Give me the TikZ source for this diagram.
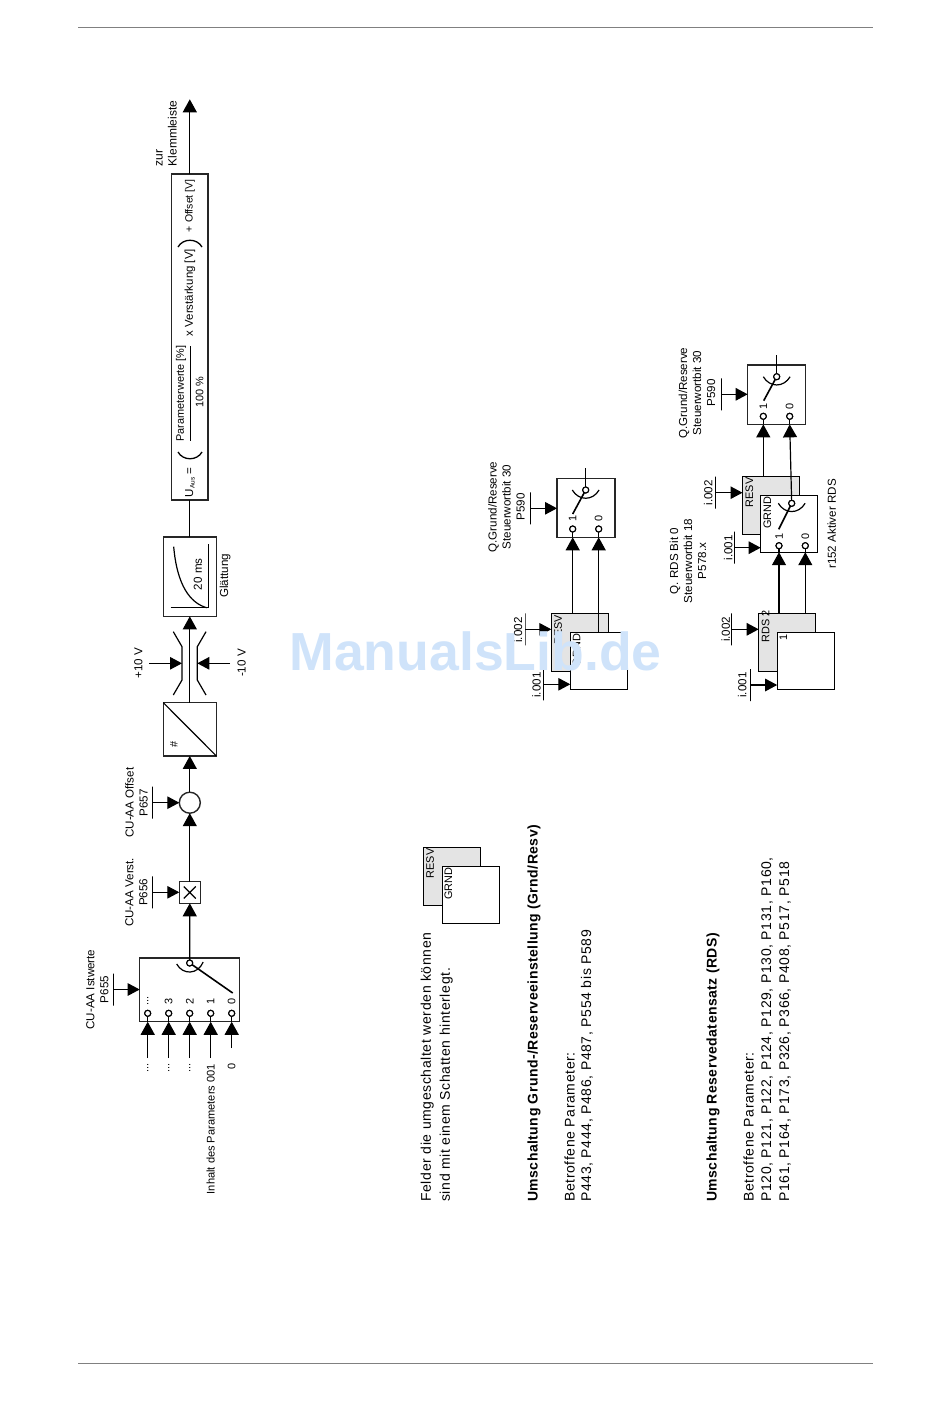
\documentclass[tikz,border=0pt]{standalone}
\usepackage{fontspec}
\setmainfont{Liberation Sans}
\newfontfamily\bodyfont[LetterSpace=4.5]{Liberation Sans}
\newfontfamily\headfont[LetterSpace=3.3]{Liberation Sans}
\usetikzlibrary{calc,arrows.meta}
\definecolor{shadowgray}{HTML}{E4E4E4}
\definecolor{markblue}{HTML}{CFE3FA}
\tikzset{
  lab/.style={rotate=90,inner sep=0pt,outer sep=0pt,align=center,font=\fontsize{11.6}{14}\selectfont},
  smalllab/.style={lab,font=\fontsize{10.9}{14}\selectfont},
  bodytxt/.style={rotate=90,anchor=west,inner sep=0pt,outer sep=0pt,font=\bodyfont\fontsize{14}{18}\selectfont},
  headtxt/.style={bodytxt,font=\headfont\bfseries\fontsize{14}{18}\selectfont},
  block/.style={draw=black!85,line width=1.4pt,fill=white,inner sep=0pt,outer sep=0pt},
  shadowbox/.style={draw,line width=.9pt,fill=shadowgray,inner sep=0pt,outer sep=0pt,minimum width=57pt,minimum height=58pt},
  frontbox/.style={draw,line width=.9pt,fill=white,inner sep=0pt,outer sep=0pt,minimum width=57pt,minimum height=57pt},
  pin/.style={circle,draw,line width=1.1pt,fill=white,inner sep=0pt,outer sep=0pt,minimum size=6pt},
  feedbar/.style={draw,line width=1pt,inner sep=0pt,outer sep=0pt,minimum width=0pt,minimum height=32pt},
  feedarrow/.style={->,>={Triangle[length=12pt,width=12.5pt]}},
}
\begin{document}
\begin{tikzpicture}[x=1pt,y=-1pt,line width=1.2pt,>={Triangle[length=13pt,width=14pt]}]
  \useasboundingbox (0,0) rectangle (950,1409);
  \draw[black!50,line width=1pt] (78,27)--(873,27);
  \draw[black!50,line width=1pt] (78,1363)--(873,1363);

  % Kette oben
  \node[block,minimum width=99.6pt,minimum height=63.7pt] (sel) at (189.5,989.9) {};
  \node[block,minimum width=21pt,minimum height=21.6pt] (mult) at (189.8,892.5) {};
  \draw (mult.center)+(-6,-6)--+(6,6) (mult.center)+(-6,6)--+(6,-6);
  \node[block,circle,minimum size=21pt] (sum) at (189.8,802.7) {};
  \node[block,minimum width=53pt,minimum height=53.3pt] (wandler) at (189.8,729.3) {};
  \draw (wandler.north west)--(wandler.south east);
  \node[smalllab] (raute) at (174,744) {\#};
  \node[block,minimum width=53pt,minimum height=79.3pt] (glatt) at (189.8,576.7) {};
  \node[block,minimum width=36.6pt,minimum height=326pt] (formel) at (189.8,337) {};
  \coordinate (klemm) at (189.8,99.3);

  % Wahlschalter
  \node[pin] (selpin) at (189.7,963) {};
  \draw[line width=1.6pt] (selpin.center)--(232.7,993);
  \draw ($(selpin)+(-13,1)$) .. controls ($(selpin)+(-7,12)$) and ($(selpin)+(8,12)$) .. ($(selpin)+(13.5,-1)$);
  \node[pin] at (selpin) {};
  \foreach \nm/\x/\ya/\txt in {a/147.7/1058/{...},b/168.7/1058/3,c/189.7/1058/2,d/210.7/1058/1,e/231.7/1048/0}{
    \node[pin] (pin\nm) at (\x,1013.3) {};
    \coordinate (src\nm) at (\x,\ya);
    \draw (pin\nm) -- (pin\nm |- sel.south);
    \draw[->] (src\nm) -- (src\nm |- sel.south);
    \node[smalllab] (num\nm) at (\x,1001) {\txt};
  }
  \node[smalllab] (dotsa) at (147.7,1068) {...};
  \node[smalllab] (dotsb) at (168.7,1068) {...};
  \node[smalllab] (dotsc) at (189.7,1068) {...};
  \node[smalllab,anchor=east,font=\fontsize{11.1}{14}\selectfont] (inhalt) at (210.7,1064) {Inhalt des Parameters 001};
  \node[smalllab] (nullin) at (231.7,1066) {0};

  % Parameter
  \node[feedbar] (b655) at (113.3,989.5) {};
  \draw[feedarrow] (b655.center) -- (b655 -| sel.west);
  \node[lab] (t655) at (97.5,989.5) {CU-AA Istwerte\\P655};
  \node[feedbar] (b656) at (152.7,892.3) {};
  \draw[feedarrow] (b656.center) -- (b656 -| mult.west);
  \node[lab] (t656) at (136.5,892.3) {CU-AA Verst.\\P656};
  \node[feedbar] (b657) at (152.7,802.7) {};
  \draw[feedarrow] (b657.center) -- (sum.west);
  \node[lab] (t657) at (136.5,802.7) {CU-AA Offset\\P657};

  \draw[->] (selpin) -- (mult);
  \draw[->] (mult) -- (sum);
  \draw[->] (sum) -- (wandler);
  \draw[->] (wandler) -- (glatt);
  \draw (glatt) -- (formel);
  \draw[->] (formel) -- (klemm);

  % Begrenzung
  \draw (173.3,631.7)--(182,646.7)--(182,680)--(173.3,695);
  \draw (206,631.7)--(197.3,646.7)--(197.3,680)--(206,695);
  \coordinate (vplus) at (149.3,663.3);
  \coordinate (vminus) at (230,663.3);
  \coordinate (limp) at (182,663.3);
  \coordinate (limm) at (197.3,663.3);
  \draw[feedarrow] (vplus) -- (limp);
  \draw[feedarrow] (vminus) -- (limm);
  \node[lab] (plusten) at (138.3,663) {+10 V};
  \node[lab] (minusten) at (241.7,663) {-10 V};

  % Glaettung
  \draw (170.7,607.7)--(208.3,607.7)--(208.3,544);
  \draw (173.7,546.7) .. controls (177,585) and (190,603) .. (206.7,607.7);
  \node[lab] (zwanzig) at (198,574.3) {20 ms};
  \node[lab] (glattlab) at (225,576) {Glättung};

  % Formel
  \node[lab,anchor=west] (uaus) at (190,497) {U\raisebox{-1.5pt}{\fontsize{6.5}{7}\selectfont Aus} =};
  \draw[line width=1.3pt] (178,452) .. controls (183,461) and (197,461) .. (202,452);
  \node[smalllab] (fracoben) at (181,393.5) {Parameterwerte [\%]};
  \draw[line width=1pt] (190,346)--(190,441);
  \node[smalllab] (fracunten) at (199.5,392) {100 \%};
  \node[lab,anchor=west,font=\fontsize{11.4}{14}\selectfont] (verst) at (190,336) {x Verstärkung [V]};
  \draw[line width=1.3pt] (178,247) .. controls (183,238) and (197,238) .. (202,247);
  \node[smalllab,anchor=west,font=\fontsize{10.5}{14}\selectfont] (offset) at (190,232) {+ Offset [V]};
  \node[lab,anchor=west,align=left,font=\fontsize{12}{14}\selectfont] (zur) at (166.5,166) {zur\\Klemmleiste};

  % Grund/Reserve Mitte
  \node[shadowbox] (shadowG) at (579.8,642.5) {};
  \node[frontbox] (frontG) at (598.8,660.8) {};
  \node[smalllab] (resvG) at (558,630) {RESV};
  \node[smalllab] (grndG) at (576.7,650) {GRND};
  \node[block,minimum width=58pt,minimum height=59pt] (swA) at (586,507.8) {};
  \node[pin] (pivA) at (585.7,490) {};
  \node[pin] (pinAa) at (572.7,529) {};
  \node[pin] (pinAb) at (598.7,529) {};
  \coordinate (outA) at (585.7,468.3);
  \draw (pivA) -- (outA);
  \draw[->] (pinAa |- shadowG.north) -- (pinAa |- swA.south);
  \draw[->] (pinAb |- frontG.north) -- (pinAb |- swA.south);
  \draw (pinAa) -- (pinAa |- swA.south);
  \draw (pinAb) -- (pinAb |- swA.south);
  \node[smalllab] (numAa) at (572.7,518.3) {1};
  \node[smalllab] (numAb) at (598.7,518.3) {0};
  \node[feedbar] (bA) at (530.7,508.3) {};
  \draw[feedarrow] (bA.center) -- (bA -| swA.west);
  \node[lab] (tA) at (506.5,507) {Q.Grund/Reserve\\Steuerwortbit 30\\P590};
  \node[feedbar] (bG2) at (525,629.3) {};
  \draw[feedarrow] (bG2.center) -- (bG2 -| shadowG.west);
  \node[lab] (tG2) at (518,630) {i.002};
  \node[feedbar] (bG1) at (543.3,684.3) {};
  \draw[feedarrow] (bG1.center) -- (bG1 -| frontG.west);
  \node[lab] (tG1) at (536.5,685) {i.001};

  % Grund/Reserve und RDS rechts
  \node[shadowbox] (shadowR) at (787.2,642) {};
  \node[frontbox] (frontR) at (805.7,660.8) {};
  \node[smalllab] (rds) at (765.7,626) {RDS 2};
  \node[smalllab] (einsR) at (783.3,637.3) {1};
  \node[shadowbox] (shadowH) at (771,505.2) {};
  \node[frontbox] (frontH) at (789.2,523.7) {};
  \node[smalllab] (resvH) at (749.3,492.5) {RESV};
  \node[smalllab] (grndH) at (767.3,512.5) {GRND};
  \node[block,minimum width=58pt,minimum height=59.3pt] (swB) at (776.7,394.7) {};
  \node[pin] (pivB) at (776.7,376.7) {};
  \node[pin] (pivC) at (791.7,503.3) {};
  \node[pin] (pinBa) at (763.3,416.3) {};
  \node[pin] (pinBb) at (789.7,416.3) {};
  \node[pin] (pinCa) at (779,545.7) {};
  \node[pin] (pinCb) at (805.3,545.7) {};
  \coordinate (outB) at (776.7,355);
  \draw (pivB) -- (outB);
  \draw[->] (pinBa |- shadowH.north) -- (pinBa |- swB.south);
  \draw[->] (pivC) -- (pinBb |- swB.south);
  \draw[->] (pinCa |- shadowR.north) -- (pinCa |- frontH.south);
  \draw[->] (pinCb |- shadowR.north) -- (pinCb |- frontH.south);
  \draw (pinBa) -- (pinBa |- swB.south);
  \draw (pinBb) -- (pinBb |- swB.south);
  \draw (pinCa) -- (pinCa |- frontH.south);
  \draw (pinCb) -- (pinCb |- frontH.south);
  \node[smalllab] (numBa) at (763.3,406) {1};
  \node[smalllab] (numBb) at (789.7,406) {0};
  \node[smalllab] (numCa) at (779,536) {1};
  \node[smalllab] (numCb) at (805.3,536) {0};
  \node[feedbar] (bB) at (721.7,394.3) {};
  \draw[feedarrow] (bB.center) -- (bB -| swB.west);
  \node[lab] (tB) at (697,393) {Q.Grund/Reserve\\Steuerwortbit 30\\P590};
  \node[lab] (tQ) at (688,561) {Q. RDS Bit 0\\Steuerwortbit 18\\P578.x};
  \node[lab] (aktiv) at (831.7,524) {r152 Aktiver RDS};
  \node[feedbar] (bH2) at (715.7,492.7) {};
  \draw[feedarrow] (bH2.center) -- (bH2 -| shadowH.west);
  \node[lab] (tH2) at (708.3,492.7) {i.002};
  \node[feedbar] (bH1) at (734.7,547.7) {};
  \draw[feedarrow] (bH1.center) -- (bH1 -| frontH.west);
  \node[lab] (tH1) at (728.3,547.7) {i.001};
  \node[feedbar] (bR2) at (731.7,629.3) {};
  \draw[feedarrow] (bR2.center) -- (bR2 -| shadowR.west);
  \node[lab] (tR2) at (725.7,629.3) {i.002};
  \node[feedbar] (bR1) at (750.7,685) {};
  \draw[feedarrow] (bR1.center) -- (bR1 -| frontR.west);
  \node[lab] (tR1) at (742.3,685) {i.001};

  % Schaltarme
  \foreach \nm/\dy in {pivA/24,pivB/24,pivC/26}{
    \draw[line width=1.6pt] (\nm.center)--++(-13,\dy);
    \draw ($(\nm)+(-13.4,0)$) .. controls ($(\nm)+(-7,11)$) and ($(\nm)+(7,11)$) .. ($(\nm)+(13.4,0)$);
    \node[pin] at (\nm) {};
  }
  \foreach \nm in {pina,pinb,pinc,pind,pine,pinAa,pinAb,pinBa,pinBb,pinCa,pinCb}{
    \node[pin] at (\nm) {};
  }

  % Legende
  \node[shadowbox] (shadowL) at (451.7,876.3) {};
  \node[frontbox] (frontL) at (470.5,895.3) {};
  \node[smalllab] (resvL) at (430,863.5) {RESV};
  \node[smalllab] (grndL) at (448.3,883.5) {GRND};

  \node[bodytxt] (felder) at (427.2,1201.7) {Felder die umgeschaltet werden können};
  \node[bodytxt] (schatten) at (446.2,1201.7) {sind mit einem Schatten hinterlegt.};
  \node[headtxt] (grnd) at (534,1201.7) {Umschaltung Grund-/Reserveeinstellung (Grnd/Resv)};
  \node[bodytxt] (betrA) at (569.5,1201.7) {Betroffene Parameter:};
  \node[bodytxt] (listA) at (586.9,1201.7) {P443, P444, P486, P487, P554 bis P589};
  \node[headtxt] (rdsh) at (713,1201.7) {Umschaltung Reservedatensatz (RDS)};
  \node[bodytxt] (betrB) at (748.5,1201.7) {Betroffene Parameter:};
  \node[bodytxt] (listB) at (767.2,1201.7) {P120, P121, P122, P124, P129, P130, P131, P160,};
  \node[bodytxt] (listC) at (785.2,1201.7) {P161, P164, P173, P326, P366, P408, P517, P518};

  % Wasserzeichen
  \node[anchor=base,inner sep=0pt,text=markblue,font=\bfseries\fontsize{53.6}{55}\selectfont] (mark) at (475.5,670) {ManualsLib.de};
\end{tikzpicture}
\end{document}
